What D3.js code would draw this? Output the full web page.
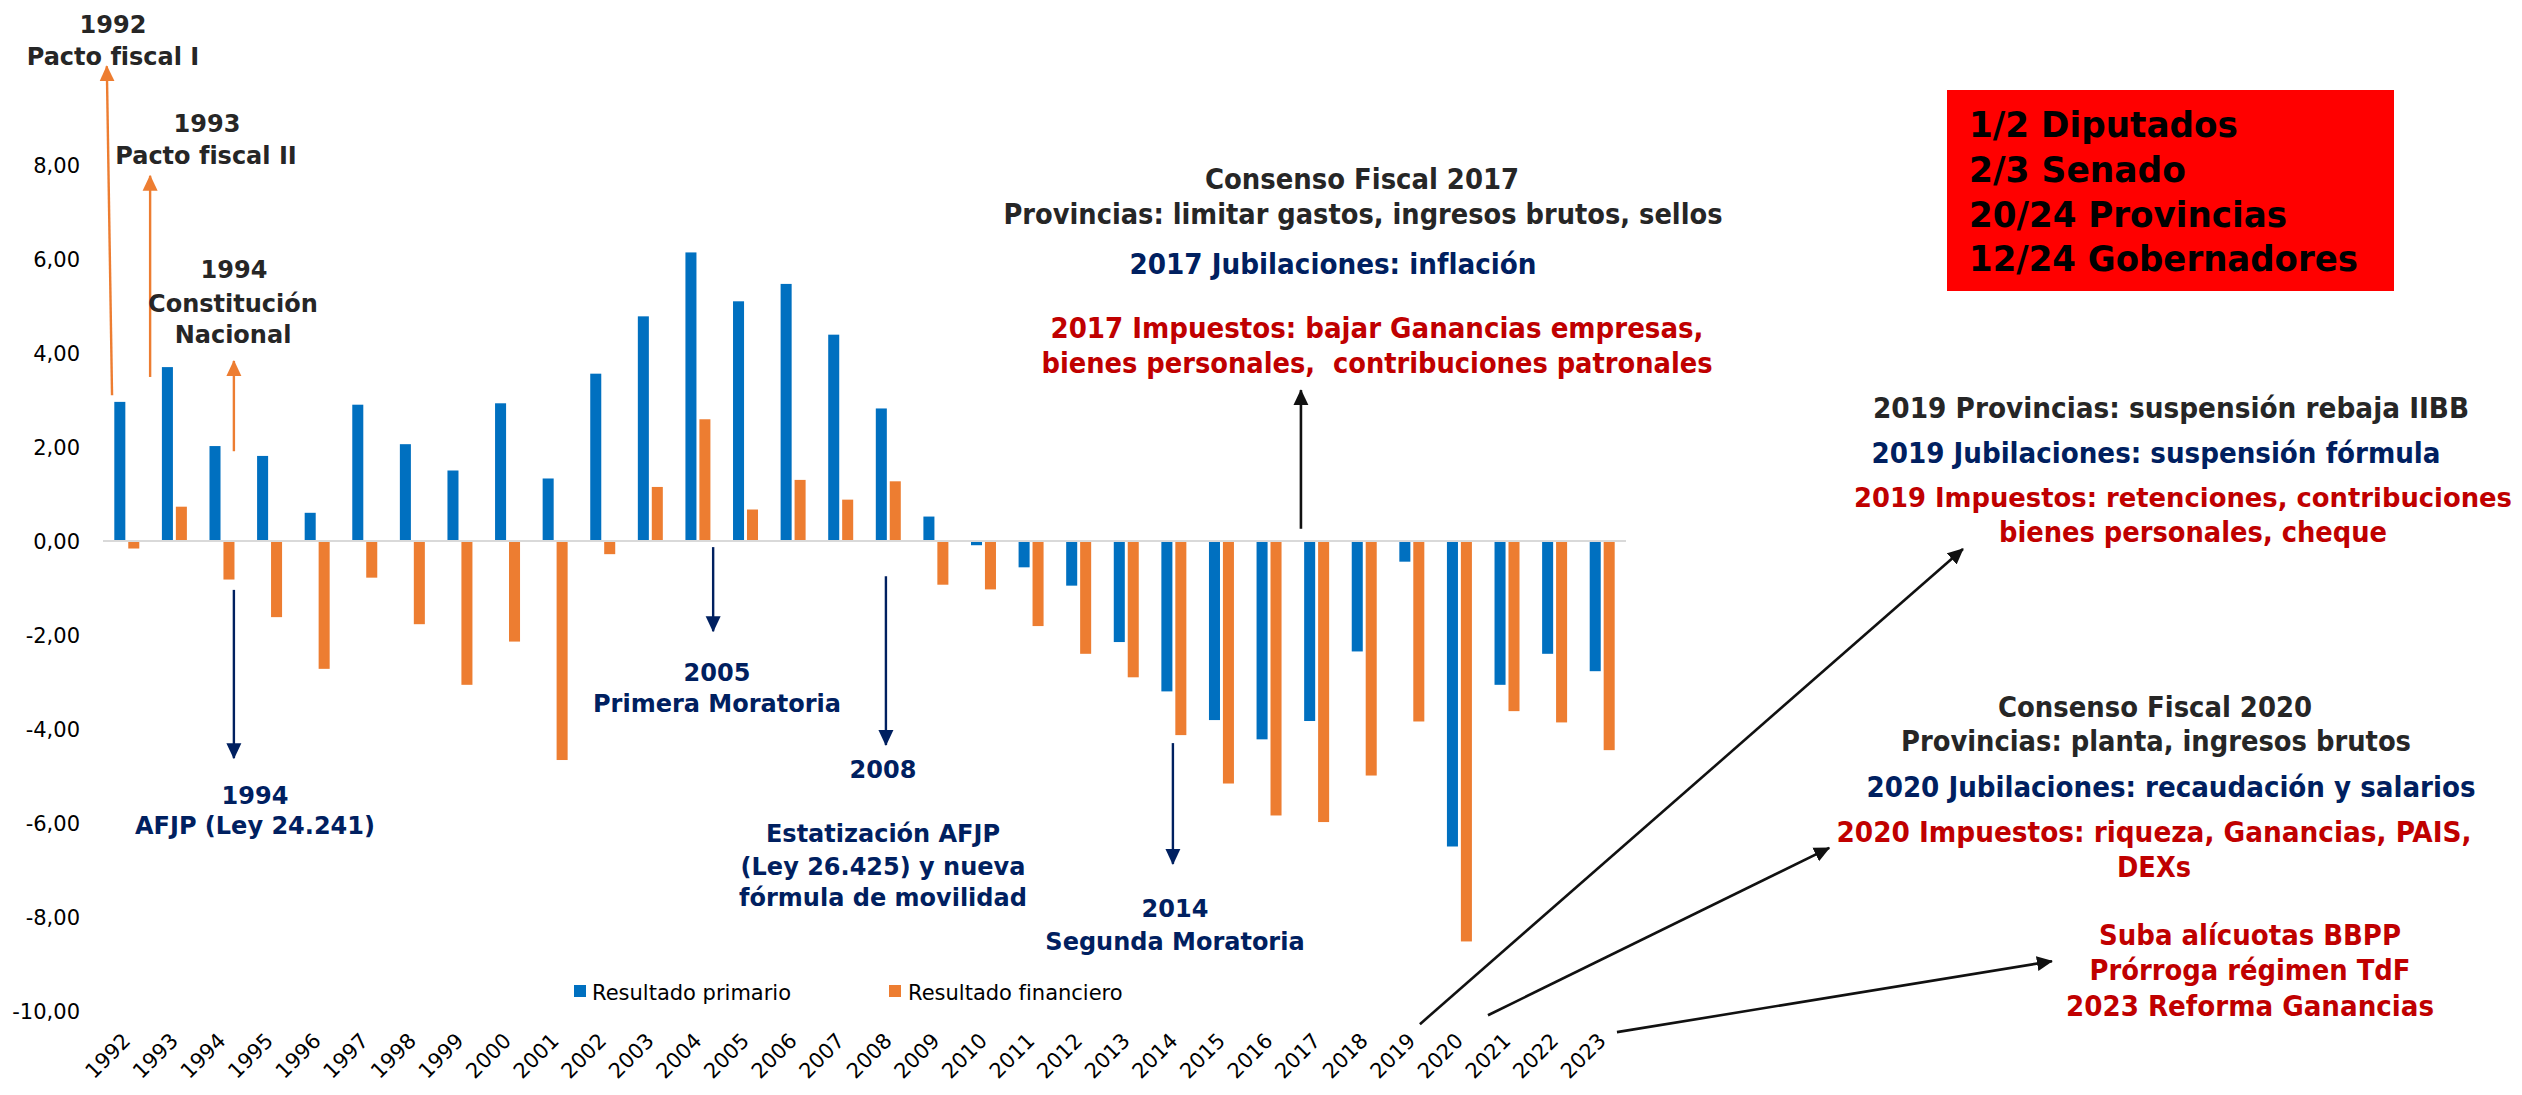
<!DOCTYPE html>
<html lang="es">
<head>
<meta charset="utf-8">
<title>Resultado primario y financiero 1992-2023</title>
<script src="https://cdn.jsdelivr.net/npm/d3@7"></script>
<style>
  body { margin: 0; background: #fff; }
  text { font-family: "DejaVu Sans", Verdana, sans-serif; }
  text.narrow { font-family: "DejaVu Sans Condensed", "DejaVu Sans", sans-serif; font-stretch: condensed; }
</style>
</head>
<body>
<div id="chart"></div>
<script>
// data (% del PIB)
const years = ["1992","1993","1994","1995","1996","1997","1998","1999","2000","2001",
  "2002","2003","2004","2005","2006","2007","2008","2009","2010","2011","2012",
  "2013","2014","2015","2016","2017","2018","2019","2020","2021","2022","2023"];
const primario = [2.96, 3.70, 2.02, 1.81, 0.60, 2.90, 2.06, 1.50, 2.93, 1.33,
  3.56, 4.78, 6.14, 5.10, 5.47, 4.39, 2.82, 0.52, -0.09, -0.56, -0.95,
  -2.15, -3.20, -3.81, -4.22, -3.83, -2.35, -0.44, -6.50, -3.06, -2.40, -2.77];
const financiero = [-0.16, 0.73, -0.82, -1.62, -2.72, -0.78, -1.77, -3.06, -2.14, -4.66,
  -0.28, 1.15, 2.59, 0.67, 1.30, 0.88, 1.27, -0.93, -1.03, -1.81, -2.40,
  -2.90, -4.13, -5.16, -5.84, -5.98, -4.99, -3.84, -8.52, -3.62, -3.86, -4.45];
const seriesNames = ["Resultado primario", "Resultado financiero"];
const yTicks = [8, 6, 4, 2, 0, -2, -4, -6, -8, -10];

const width = 2522, height = 1095;
const plot = { left: 103, right: 1626, top: 71, bottom: 1011 };
const colors = { primario: "#0070C0", financiero: "#ED7D31", gray: "#262626",
  navy: "#002060", red: "#C00000", black: "#111111" };

const svg = d3.select("#chart").append("svg")
    .attr("width", width)
    .attr("height", height);

const x0 = d3.scaleBand()
    .domain(years)
    .range([plot.left, plot.right])
    .paddingInner(0.475)
    .paddingOuter(0.2375);
const x1 = d3.scaleBand()
    .domain(seriesNames)
    .range([0, x0.bandwidth()])
    .paddingInner(0.21);
const y = d3.scaleLinear()
    .domain([-10, 10])
    .range([plot.bottom, plot.top]);
// category units, used to place the annotation arrows
const xu = d3.scaleLinear().domain([0, years.length]).range([plot.left, plot.right]);

// "8,00" style, with a plain hyphen for negatives
const fmt = v => d3.format(".2f")(v).replace(".", ",").replace("\u2212", "-");

// y axis labels (no axis line, no gridlines)
svg.append("g")
    .selectAll("text")
    .data(yTicks)
    .enter().append("text")
    .attr("x", 80)
    .attr("y", d => y(d))
    .attr("dy", "0.36em")
    .attr("text-anchor", "end")
    .attr("font-size", 21)
    .attr("fill", "#000")
    .text(fmt);

// bars
const rows = years.map((yr, i) => ({ year: yr, values: [primario[i], financiero[i]] }));
const groups = svg.append("g")
    .selectAll("g")
    .data(rows)
    .enter().append("g")
    .attr("transform", d => `translate(${x0(d.year)},0)`);
groups.selectAll("rect")
    .data(d => d.values.map((v, k) => ({ key: seriesNames[k], v: v })))
    .enter().append("rect")
    .attr("x", d => x1(d.key))
    .attr("width", x1.bandwidth())
    .attr("y", d => y(Math.max(0, d.v)))
    .attr("height", d => Math.abs(y(d.v) - y(0)))
    .attr("fill", d => d.key === seriesNames[0] ? colors.primario : colors.financiero);

// zero line
svg.append("line")
    .attr("x1", plot.left).attr("x2", plot.right)
    .attr("y1", y(0)).attr("y2", y(0))
    .attr("stroke", "#D9D9D9")
    .attr("stroke-width", 2);

// x axis labels
svg.append("g")
    .selectAll("text")
    .data(years)
    .enter().append("text")
    .attr("transform", d => `translate(${x0(d) + x0.bandwidth() / 2 + 5},1042) rotate(-45)`)
    .attr("text-anchor", "end")
    .attr("font-size", 21)
    .attr("fill", "#000")
    .text(d => d);

// legend
const legend = svg.append("g");
[[574, 592, colors.primario], [889, 908, colors.financiero]].forEach((p, k) => {
    legend.append("rect").attr("x", p[0]).attr("y", 985).attr("width", 12).attr("height", 12).attr("fill", p[2]);
    legend.append("text").attr("x", p[1]).attr("y", 1000).attr("font-size", 21).attr("fill", "#000").text(seriesNames[k]);
});

// arrow markers
const defs = svg.append("defs");
["orange", "navy", "black"].forEach(name => {
    const c = name === "orange" ? colors.financiero : name === "navy" ? colors.navy : colors.black;
    defs.append("marker")
        .attr("id", "head-" + name)
        .attr("markerUnits", "userSpaceOnUse")
        .attr("viewBox", "0 0 16 16")
        .attr("refX", 15).attr("refY", 8)
        .attr("markerWidth", 16).attr("markerHeight", 16)
        .attr("orient", "auto")
        .append("path")
        .attr("d", "M0,0.5L16,8L0,15.5Z")
        .attr("fill", c);
});

// annotation arrows: position in category units (x) and chart values (y)
const arrows = [
    { c: "orange", i0: 0.19, v0: 3.10, i1: 0.08, v1: 10.10 },
    { c: "orange", i0: 0.99, v0: 3.49, i1: 0.99, v1: 7.77 },
    { c: "orange", i0: 2.75, v0: 1.91, i1: 2.75, v1: 3.83 },
    { c: "navy", i0: 2.75, v0: -1.04, i1: 2.75, v1: -4.62 },
    { c: "navy", i0: 12.82, v0: -0.13, i1: 12.82, v1: -1.92 },
    { c: "navy", i0: 16.45, v0: -0.75, i1: 16.45, v1: -4.34 },
    { c: "navy", i0: 22.48, v0: -4.30, i1: 22.48, v1: -6.87 },
    { c: "black", i0: 25.17, v0: 0.26, i1: 25.17, v1: 3.21 },
    { c: "black", i0: 27.67, v0: -10.28, i1: 39.08, v1: -0.17 },
    { c: "black", i0: 29.10, v0: -10.09, i1: 36.27, v1: -6.53 },
    { c: "black", i0: 31.81, v0: -10.45, i1: 40.95, v1: -8.94 }
];
svg.append("g")
    .selectAll("line")
    .data(arrows)
    .enter().append("line")
    .attr("x1", d => xu(d.i0)).attr("y1", d => y(d.v0))
    .attr("x2", d => xu(d.i1)).attr("y2", d => y(d.v1))
    .attr("stroke", d => d.c === "orange" ? colors.financiero : d.c === "navy" ? colors.navy : colors.black)
    .attr("stroke-width", d => d.c === "black" ? 2.6 : 2.4)
    .attr("marker-end", d => `url(#head-${d.c})`);

// red box
svg.append("rect")
    .attr("x", 1947).attr("y", 90)
    .attr("width", 447).attr("height", 201)
    .attr("fill", "#FF0000");

// annotation texts: [text, x, baseline, color, size, width]
const notes = [
    ["1992", 113, 33, "gray", 24],
    ["Pacto fiscal I", 113, 65, "gray", 24],
    ["1993", 207, 132, "gray", 24],
    ["Pacto fiscal II", 206, 164, "gray", 24],
    ["1994", 234, 278, "gray", 24],
    ["Constitución", 233, 312, "gray", 24],
    ["Nacional", 233, 343, "gray", 24],
    ["1994", 255, 804, "navy", 24],
    ["AFJP (Ley 24.241)", 255, 834, "navy", 24],
    ["2005", 717, 681, "navy", 24],
    ["Primera Moratoria", 717, 712, "navy", 24],
    ["2008", 883, 778, "navy", 24],
    ["Estatización AFJP", 883, 842, "navy", 24],
    ["(Ley 26.425) y nueva", 883, 875, "navy", 24],
    ["fórmula de movilidad", 883, 906, "navy", 24],
    ["2014", 1175, 917, "navy", 24],
    ["Segunda Moratoria", 1175, 950, "navy", 24],
    ["Consenso Fiscal 2017", 1362, 189, "gray", 28, 314],
    ["Provincias: limitar gastos, ingresos brutos, sellos", 1363, 224, "gray", 28, 719],
    ["2017 Jubilaciones: inflación", 1333, 274, "navy", 28, 407],
    ["2017 Impuestos: bajar Ganancias empresas,", 1377, 338, "red", 28, 653],
    ["bienes personales,\u00a0 contribuciones patronales", 1377, 373, "red", 28, 671],
    ["2019 Provincias: suspensión rebaja IIBB", 2171, 418, "gray", 28, 596],
    ["2019 Jubilaciones: suspensión fórmula", 2156, 463, "navy", 28, 569],
    ["2019 Impuestos: retenciones, contribuciones", 2183, 507, "red", 27, 658],
    ["bienes personales, cheque", 2193, 542, "red", 28, 388],
    ["Consenso Fiscal 2020", 2155, 717, "gray", 28, 314],
    ["Provincias: planta, ingresos brutos", 2156, 751, "gray", 28, 510],
    ["2020 Jubilaciones: recaudación y salarios", 2171, 797, "navy", 28, 609],
    ["2020 Impuestos: riqueza, Ganancias, PAIS,", 2154, 842, "red", 28, 635],
    ["DEXs", 2154, 877, "red", 28, 74],
    ["Suba alícuotas BBPP", 2250, 945, "red", 28, 302],
    ["Prórroga régimen TdF", 2250, 980, "red", 28, 321],
    ["2023 Reforma Ganancias", 2250, 1016, "red", 28, 368]
];
const noteText = svg.append("g")
    .selectAll("text")
    .data(notes)
    .enter().append("text")
    .attr("x", d => d[1])
    .attr("y", d => d[2])
    .attr("text-anchor", "middle")
    .attr("font-weight", "bold")
    .attr("font-size", d => d[4])
    .attr("fill", d => colors[d[3]])
    .text(d => d[0]);
noteText.filter(d => d[5])
    .classed("narrow", true)
    .attr("textLength", d => d[5])
    .attr("lengthAdjust", "spacingAndGlyphs");

// text inside red box
const boxLines = [["1/2 Diputados", 137, 269], ["2/3 Senado", 182, 217],
    ["20/24 Provincias", 227, 318], ["12/24 Gobernadores", 271, 389]];
svg.append("g")
    .selectAll("text")
    .data(boxLines)
    .enter().append("text")
    .attr("class", "narrow")
    .attr("x", 1969)
    .attr("y", d => d[1])
    .attr("font-weight", "bold")
    .attr("font-size", 36)
    .attr("fill", "#000")
    .attr("textLength", d => d[2])
    .attr("lengthAdjust", "spacingAndGlyphs")
    .text(d => d[0]);
</script>
</body>
</html>
